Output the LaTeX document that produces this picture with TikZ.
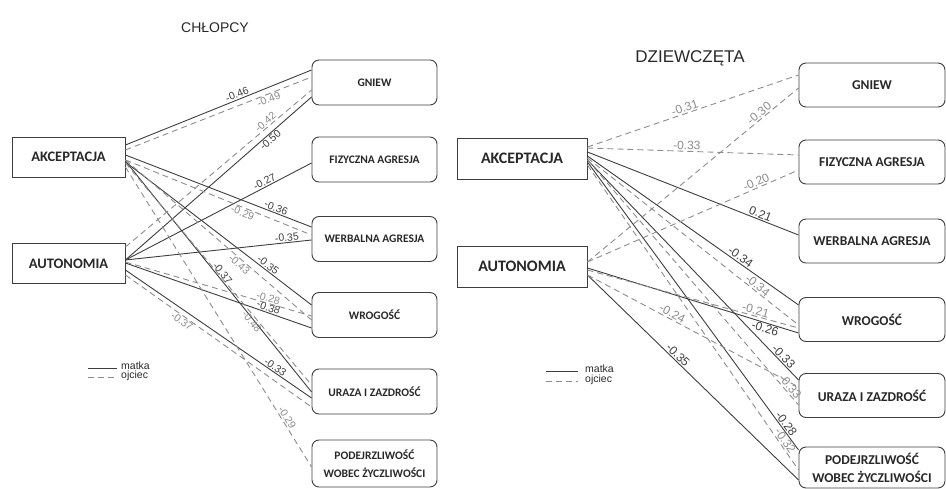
\documentclass[tikz,border=0pt]{standalone}
\usepackage{fontspec}
\setmainfont{Liberation Sans}
\newfontfamily\boxfont{Carlito}
\usetikzlibrary{calc}
\definecolor{ciemny}{RGB}{62,62,62}
\definecolor{jasny}{RGB}{140,140,140}
\definecolor{napis}{RGB}{40,40,40}

\begin{document}
\begin{tikzpicture}[x=1pt,y=1pt,
  zmienna/.style={draw=ciemny,line width=0.9pt,minimum height=40pt,inner sep=0pt,text=napis},
  skala/.style={draw=ciemny,line width=0.9pt,rounded corners=7pt,minimum height=45pt,inner sep=0pt,text=napis,align=center},
  matka/.style={draw=ciemny,line width=0.9pt},
  ojciec/.style={draw=jasny,line width=0.9pt,dash pattern=on 6pt off 4pt},
  wspM/.style={sloped,inner sep=1pt,text=ciemny},
  wspO/.style={sloped,inner sep=1pt,text=jasny},
  tytul/.style={text=napis,font=\fontsize{14}{16}\selectfont},
  legenda/.style={anchor=west,inner sep=0pt,text=napis,font=\fontsize{10.5}{12}\selectfont}]
\useasboundingbox (0,0) rectangle (946,488);

% ===== CHLOPCY =====
% Text Node
\node[tytul] (tytL) at (215,460) {CHŁOPCY};

%Shape: Rectangle
\node[zmienna,minimum width=113pt,font=\boxfont\bfseries\fontsize{14.5}{16}\selectfont] (akcL) at (68.5,331) {AKCEPTACJA};
\node[zmienna,minimum width=113pt,font=\boxfont\bfseries\fontsize{14.5}{16}\selectfont] (autL) at (68.5,224.5) {AUTONOMIA};

%Shape: Rounded rectangle
\begin{scope}[every node/.append style={skala,minimum width=125pt,font=\boxfont\bfseries\fontsize{11.5}{18}\selectfont}]
\node (gniewL) at (374.5,405.5) {GNIEW};
\node (fizL) at (374.5,328.5) {FIZYCZNA AGRESJA};
\node (werL) at (374.5,249) {WERBALNA AGRESJA};
\node (wroL) at (374.5,173) {WROGOŚĆ};
\node (urazaL) at (374.5,96.5) {URAZA I ZAZDROŚĆ};
\node[minimum height=47pt] (podL) at (374.5,24.5) {PODEJRZLIWOŚĆ\\WOBEC ŻYCZLIWOŚCI};
\end{scope}

%Straight Lines -- matka
\begin{scope}[every node/.append style={wspM,font=\fontsize{10.5}{12}\selectfont}]
\draw[matka] ($(akcL.east)+(0,12)$) -- ($(gniewL.west)+(0,12.5)$) node[pos=.61,above] {-0.46};
\draw[matka] ($(akcL.east)+(0,2)$) -- ($(werL.west)+(0,12)$) node[pos=.8,above] {-0.36};
\draw[matka] ($(akcL.east)+(0,-5)$) -- ($(wroL.west)+(0,10)$) node[pos=.75,above] {-0.35};
\draw[matka] ($(akcL.east)+(0,-4)$) -- ($(urazaL.west)+(0,-0.5)$) node[pos=.5,above] {-0.37};
\draw[matka] ($(autL.east)+(0,3.5)$) -- ($(gniewL.west)+(0,-14.5)$) node[pos=.76,below] {-0.50};
\draw[matka] ($(autL.east)+(0,3.5)$) -- ($(fizL.west)+(0,-3.5)$) node[pos=.76,above] {-0.27};
\draw[matka] ($(autL.east)+(0,3.5)$) -- ($(werL.west)+(0,-1)$) node[pos=.87,above] {-0.35};
\draw[matka] ($(autL.east)+(0,0.5)$) -- ($(wroL.west)+(0,-13)$) node[pos=.76,above] {-0.38};
\draw[matka] ($(autL.east)+(0,-6.5)$) -- ($(urazaL.west)+(0,-6.5)$) node[pos=.79,above] {-0.33};
\end{scope}

%Straight Lines -- ojciec
\begin{scope}[every node/.append style={wspO,font=\fontsize{10.5}{12}\selectfont}]
\draw[ojciec] ($(akcL.east)+(0,7)$) -- ($(gniewL.west)+(0,5.5)$) node[pos=.76,below] {-0.49};
\draw[ojciec] ($(akcL.east)+(0,-3)$) -- ($(werL.west)+(0,4)$) node[pos=.64,below] {-0.29};
\draw[ojciec] ($(akcL.east)+(0,-3)$) -- ($(wroL.west)+(0,-5)$) node[pos=.63,below] {-0.43};
\draw[ojciec] ($(akcL.east)+(0,-6)$) -- ($(urazaL.west)+(0,6.5)$) node[pos=.7,below] {-0.48};
\draw[ojciec] ($(akcL.east)+(0,-10)$) -- ($(podL.west)+(0,-3.5)$) node[pos=.845,above] {-0.29};
\draw[ojciec] ($(autL.east)+(0,16.5)$) -- ($(gniewL.west)+(0,-7.5)$) node[pos=.77,above] {-0.42};
\draw[ojciec] ($(autL.east)+(0,1.5)$) -- ($(wroL.west)+(0,-1)$) node[pos=.76,above] {-0.28};
\draw[ojciec] ($(autL.east)+(0,-11.5)$) -- ($(urazaL.west)+(0,-15.5)$) node[pos=.32,below] {-0.37};
\end{scope}

% Text Node -- legenda
\node[legenda] (matkaL) at (121,122) {matka};
\node[legenda] (ojciecL) at (121,112) {ojciec};
\draw[matka] ($(matkaL.west)+(-33,-2)$) -- ($(matkaL.west)+(-4,-2)$);
\draw[ojciec] ($(ojciecL.west)+(-33,-1)$) -- ($(ojciecL.west)+(-4,-1)$);

% ===== DZIEWCZETA =====
% Text Node
\node[tytul,font=\fontsize{17}{19}\selectfont] (tytR) at (690,430) {DZIEWCZĘTA};

%Shape: Rectangle
\node[zmienna,minimum width=130pt,minimum height=41pt,font=\boxfont\bfseries\fontsize{16}{18}\selectfont] (akcR) at (522,329.5) {AKCEPTACJA};
\node[zmienna,minimum width=130pt,minimum height=41pt,font=\boxfont\bfseries\fontsize{16}{18}\selectfont] (autR) at (522,221.5) {AUTONOMIA};

%Shape: Rounded rectangle
\begin{scope}[every node/.append style={skala,minimum width=146pt,minimum height=44pt,font=\boxfont\bfseries\fontsize{13.5}{18}\selectfont}]
\node (gniewR) at (872,403) {GNIEW};
\node (fizR) at (872,326) {FIZYCZNA AGRESJA};
\node (werR) at (872,247) {WERBALNA AGRESJA};
\node (wroR) at (872,168.5) {WROGOŚĆ};
\node (urazaR) at (872,92.5) {URAZA I ZAZDROŚĆ};
\node[minimum height=41pt] (podR) at (872,20.5) {PODEJRZLIWOŚĆ\\WOBEC ŻYCZLIWOŚCI};
\end{scope}

%Straight Lines -- matka
\begin{scope}[every node/.append style={wspM,font=\fontsize{12}{14}\selectfont}]
\draw[matka] ($(akcR.east)+(0,6.5)$) -- ($(werR.west)+(0,6)$) node[pos=.81,above] {0.21};
\draw[matka] ($(akcR.east)+(0,2.5)$) -- ($(wroR.west)+(0,14.5)$) node[pos=.71,above] {-0.34};
\draw[matka] ($(autR.east)+(0,-1.5)$) -- ($(wroR.west)+(0,-13.5)$) node[pos=.85,below] {-0.26};
\draw[matka] ($(akcR.east)+(0,-1.5)$) -- ($(urazaR.west)+(0,15.5)$) node[pos=.91,above] {-0.33};
\draw[matka] ($(akcR.east)+(0,-3.5)$) -- ($(podR.west)+(0,17.5)$) node[pos=.92,above] {-0.28};
\draw[matka] ($(autR.east)+(0,-8.5)$) -- ($(podR.west)+(0,-12.5)$) node[pos=.41,above] {-0.35};
\end{scope}

%Straight Lines -- ojciec
\begin{scope}[every node/.append style={wspO,font=\fontsize{12}{14}\selectfont}]
\draw[ojciec] ($(akcR.east)+(0,11.5)$) -- ($(gniewR.west)+(0,10)$) node[pos=.47,above] {-0.31};
\draw[ojciec] ($(autR.east)+(0,4.5)$) -- ($(gniewR.west)+(0,-3)$) node[pos=.83,above] {-0.30};
\draw[ojciec] ($(akcR.east)+(0,10.5)$) -- ($(fizR.west)+(0,7)$) node[pos=.47,above] {-0.33};
\draw[ojciec] ($(autR.east)+(0,4.5)$) -- ($(fizR.west)+(0,-8)$) node[pos=.81,above] {-0.20};
\draw[ojciec] ($(akcR.east)+(0,0.5)$) -- ($(wroR.west)+(0,-5.5)$) node[pos=.79,above] {-0.34};
\draw[ojciec] ($(autR.east)+(0,-3.5)$) -- ($(wroR.west)+(0,-8.5)$) node[pos=.79,above] {-0.21};
\draw[ojciec] ($(autR.east)+(0,-8.5)$) -- ($(urazaR.west)+(0,8.5)$) node[pos=.39,above] {-0.24};
\draw[ojciec] ($(akcR.east)+(0,-1.5)$) -- ($(urazaR.west)+(0,-9.5)$) node[pos=.94,above] {-0.33};
\draw[ojciec] ($(akcR.east)+(0,-6.5)$) -- ($(podR.west)+(0,-2.5)$) node[pos=.915,above] {-0.32};
\end{scope}

% Text Node -- legenda
\node[legenda] (matkaR) at (585,119) {matka};
\node[legenda] (ojciecR) at (585,108) {ojciec};
\draw[matka] ($(matkaR.west)+(-39,-2)$) -- ($(matkaR.west)+(-7,-2)$);
\draw[ojciec] ($(ojciecR.west)+(-39,-1)$) -- ($(ojciecR.west)+(-7,-1)$);

\end{tikzpicture}
\end{document}
